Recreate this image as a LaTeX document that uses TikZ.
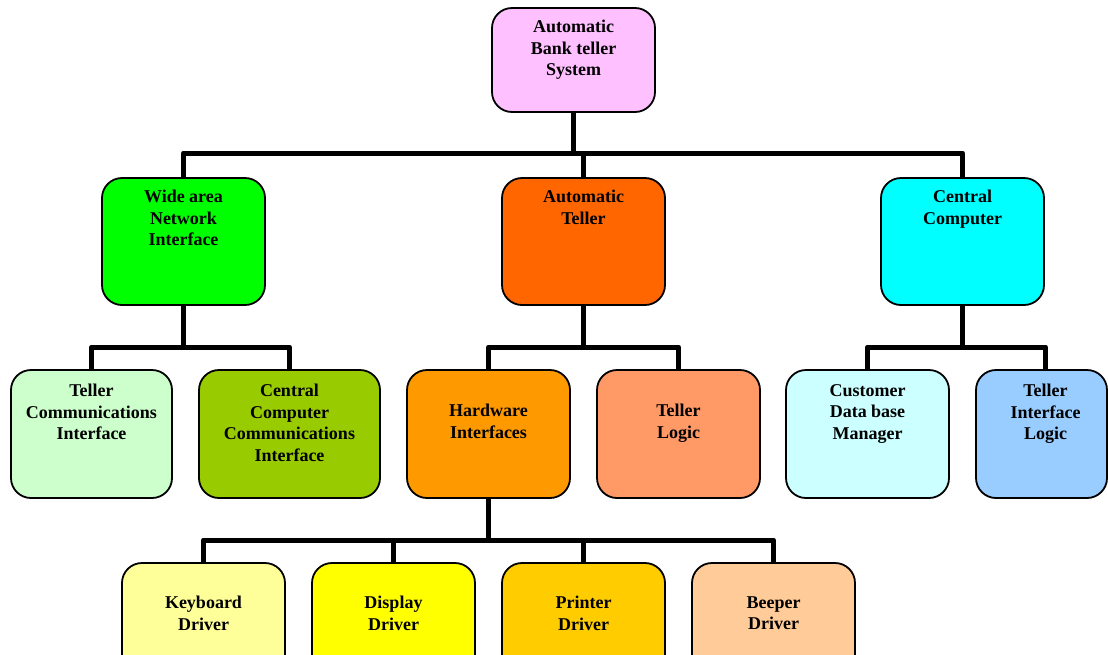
\documentclass[tikz,border=0pt]{standalone}
\usepackage{fontspec}
\setmainfont{Liberation Serif}
\usepackage{tikz}
\usetikzlibrary{positioning}

\definecolor{pinkbox}{HTML}{FFC0FF}
\definecolor{greenbox}{HTML}{00FF00}
\definecolor{orangebox}{HTML}{FF6600}
\definecolor{cyanbox}{HTML}{00FFFF}
\definecolor{palegreen}{HTML}{CCFFCC}
\definecolor{olivebox}{HTML}{99CC00}
\definecolor{amberbox}{HTML}{FF9900}
\definecolor{salmonbox}{HTML}{FF9966}
\definecolor{palecyan}{HTML}{CCFFFF}
\definecolor{skybox}{HTML}{99CCFF}
\definecolor{paleyellow}{HTML}{FFFF99}
\definecolor{yellowbox}{HTML}{FFFF00}
\definecolor{goldbox}{HTML}{FFCC00}
\definecolor{peachbox}{HTML}{FFCC99}

\tikzset{
 box/.style={draw=black, line width=1.8pt, rounded corners=20pt, minimum width=163pt, minimum height=128pt, inner sep=0pt},
 txt/.style={align=center, inner sep=0pt, font=\fontsize{18}{21.5}\selectfont\bfseries},
 link/.style={line width=5pt, line join=round},
}

\begin{document}
\begin{tikzpicture}[x=1pt, y=1pt]
 \useasboundingbox (0,0) rectangle (1108,-654);
 \clip (0,0) rectangle (1108,-654);

 % Top
 \node[box, fill=pinkbox, minimum height=104pt] (atbs) at (573.5,-60) {};
 \node[txt, below=13pt of atbs.north] (atbs-t) {Automatic\\Bank teller\\System};

 % Second row
 \node[box, fill=greenbox, minimum height=127pt] (wan) at (183.5,-241.5) {};
 \node[txt, below=13pt of wan.north] (wan-t) {Wide area\\Network\\Interface};
 \node[box, fill=orangebox, minimum height=127pt] (at) at (583.5,-241.5) {};
 \node[txt, below=13pt of at.north] (at-t) {Automatic\\Teller};
 \node[box, fill=cyanbox, minimum height=127pt] (cc) at (962.5,-241.5) {};
 \node[txt, below=13pt of cc.north] (cc-t) {Central\\Computer};

 % Third row
 \node[box, fill=palegreen, minimum width=161pt] (tci) at (91.5,-434) {};
 \node[txt, below=15pt of tci.north] (tci-t) {Teller\\Communications\\Interface};
 \node[box, fill=olivebox, minimum width=181pt] (ccci) at (289.5,-434) {};
 \node[txt, below=15pt of ccci.north] (ccci-t) {Central\\Computer\\Communications\\Interface};
 \node[box, fill=amberbox] (hwi) at (488.5,-434) {};
 \node[txt, below=35pt of hwi.north] (hwi-t) {Hardware\\Interfaces};
 \node[box, fill=salmonbox] (tl) at (678.5,-434) {};
 \node[txt, below=35pt of tl.north] (tl-t) {Teller\\Logic};
 \node[box, fill=palecyan] (cdbm) at (867.5,-434) {};
 \node[txt, below=15pt of cdbm.north] (cdbm-t) {Customer\\Data base\\Manager};
 \node[box, fill=skybox, minimum width=131pt] (til) at (1041.5,-434) {};
 \node[txt, below=15pt of til.north, xshift=4pt] (til-t) {Teller\\Interface\\Logic};

 % Drivers
 \node[box, fill=paleyellow] (kd) at (203.5,-627) {};
 \node[txt, below=34pt of kd.north] (kd-t) {Keyboard\\Driver};
 \node[box, fill=yellowbox] (dd) at (393.5,-627) {};
 \node[txt, below=34pt of dd.north] (dd-t) {Display\\Driver};
 \node[box, fill=goldbox] (pd) at (583.5,-627) {};
 \node[txt, below=34pt of pd.north] (pd-t) {Printer\\Driver};
 \node[box, fill=peachbox] (bd) at (773.5,-627) {};
 \node[txt, below=34pt of bd.north] (bd-t) {Beeper\\Driver};

 % Connectors
 \coordinate (bus0) at (573,-153);
 \draw[link] (atbs.south) -- (atbs.south |- bus0);
 \draw[link] (wan.north) |- (bus0) -| (cc.north);
 \draw[link] (at.north) -- (at.north |- bus0);

 \coordinate (bus1) at (183,-347);
 \draw[link] (wan.south) -- (wan.south |- bus1);
 \draw[link] (tci.north) |- (bus1) -| (ccci.north);

 \coordinate (bus2) at (583,-347);
 \draw[link] (at.south) -- (at.south |- bus2);
 \draw[link] (hwi.north) |- (bus2) -| (tl.north);

 \coordinate (bus3) at (963,-347);
 \draw[link] (cc.south) -- (cc.south |- bus3);
 \draw[link] (cdbm.north) |- (bus3) -| ([xshift=4pt]til.north);

 \coordinate (bus4) at (488,-540);
 \draw[link] (hwi.south) -- (hwi.south |- bus4);
 \draw[link] (kd.north) |- (bus4) -| (bd.north);
 \draw[link] (dd.north) -- (dd.north |- bus4);
 \draw[link] (pd.north) -- (pd.north |- bus4);
\end{tikzpicture}
\end{document}
